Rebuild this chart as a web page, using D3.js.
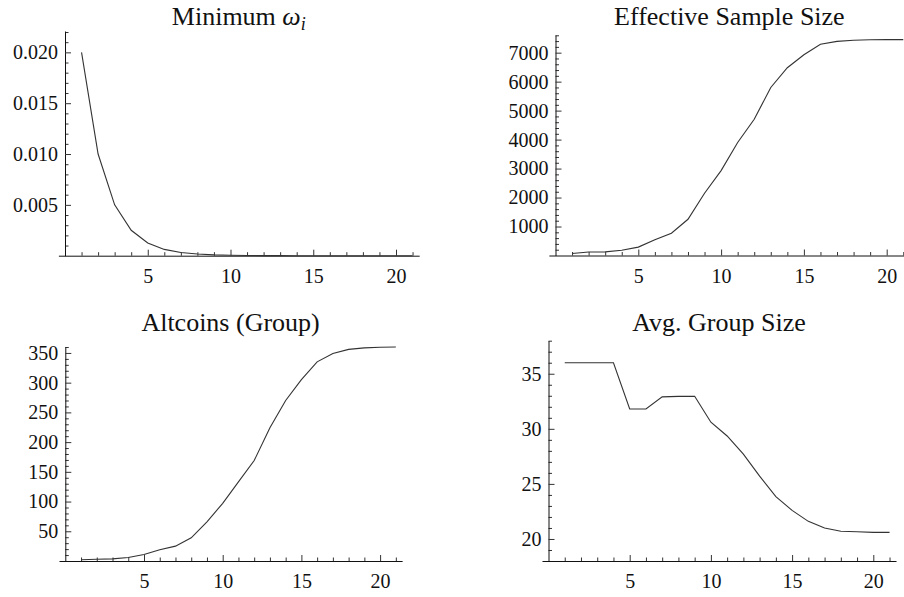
<!DOCTYPE html>
<html>
<head>
<meta charset="utf-8">
<script src="https://cdn.jsdelivr.net/npm/d3@7"></script>
<style>
  body { margin: 0; background: #fff; }
  svg { display: block; }
</style>
</head>
<body>
<svg></svg>
<script>
const steps = [1, 2, 3, 4, 5, 6, 7, 8, 9, 10, 11, 12, 13, 14, 15, 16, 17, 18, 19, 20, 21];

const minOmega = [0.0200, 0.0100, 0.0050, 0.0025, 0.00125, 0.00062, 0.00031, 0.00016, 0.00008, 0.00004,
                  0.00002, 0.00001, 0.000005, 0.000002, 0.000001, 0, 0, 0, 0, 0, 0];
const essSize = [70, 120, 125, 180, 290, 540, 770, 1250, 2150, 2930, 3900, 4700, 5800, 6480, 6930,
                 7290, 7390, 7430, 7445, 7450, 7450];
const altcoins = [2, 3, 3.5, 6, 11, 19, 25, 39, 66, 97, 133, 169, 224, 270, 305, 335, 349, 356, 358.5, 359.5, 360];
const avgGroup = [36, 36, 36, 36, 31.8, 31.8, 32.9, 32.95, 32.95, 30.6, 29.35, 27.7, 25.7, 23.85, 22.6,
                  21.6, 21.0, 20.7, 20.65, 20.6, 20.6];

const xTicks = [5, 10, 15, 20];
const omegaTicks = [0.005, 0.010, 0.015, 0.020];
const essTicks = [1000, 2000, 3000, 4000, 5000, 6000, 7000];
const altTicks = [50, 100, 150, 200, 250, 300, 350];
const groupTicks = [20, 25, 30, 35];

const width = 904;
const height = 597;
const serif = "'Liberation Serif', 'DejaVu Serif', 'Times New Roman', Times, serif";

const svg = d3.select('svg')
    .attr('width', width)
    .attr('height', height)
    .attr('font-family', serif);

// x0 = pixel of step 0, k = px per step, y pixel range for [yMin, yMax]
const panels = [
  {title: 'omega', values: minOmega, majors: omegaTicks, fmt: d3.format('.3f'), minorStep: 0.001,
   x0: 65, k: 16.55, yDomain: [0, 0.0221], yRange: [255.7, 31], titleY: 25},
  {title: 'Effective Sample Size', values: essSize, majors: essTicks, fmt: d3.format('d'), minorStep: 200,
   x0: 555.5, k: 16.56, yDomain: [0, 7610], yRange: [255.5, 35], titleY: 25},
  {title: 'Altcoins (Group)', values: altcoins, majors: altTicks, fmt: d3.format('d'), minorStep: 10,
   x0: 65.3, k: 15.74, yDomain: [0, 360.5], yRange: [561, 346.7], titleY: 331},
  {title: 'Avg. Group Size', values: avgGroup, majors: groupTicks, fmt: d3.format('d'), minorStep: 1,
   x0: 548.5, k: 16.24, yDomain: [18, 38], yRange: [561, 340.7], titleY: 331}
];

panels.forEach(drawPanel);

function drawPanel(p){
  const x = d3.scaleLinear()
      .domain([-0.4, 21.4])
      .range([p.x0 - 0.4 * p.k, p.x0 + 21.4 * p.k]);
  const y = d3.scaleLinear()
      .domain(p.yDomain)
      .range(p.yRange);

  const g = svg.append('g');

  // minor ticks
  const yMinor = d3.range(p.yDomain[0] + p.minorStep, p.yDomain[1] + 1e-9, p.minorStep)
      .filter(v => !p.majors.some(m => Math.abs(m - v) < p.minorStep / 10));
  g.append('g')
      .attr('transform', `translate(${x(0)},0)`)
      .call(d3.axisLeft(y).tickValues(yMinor).tickSize(-3.5).tickFormat(''))
      .call(s => s.select('.domain').remove());
  const xMinor = steps.filter(s => !xTicks.includes(s));
  g.append('g')
      .attr('transform', `translate(0,${y(p.yDomain[0])})`)
      .call(d3.axisBottom(x).tickValues(xMinor).tickSize(-3.5).tickFormat(''))
      .call(s => s.select('.domain').remove());

  // major ticks + axis lines
  g.append('g')
      .attr('transform', `translate(${x(0)},0)`)
      .call(d3.axisLeft(y).tickValues(p.majors).tickSize(-6).tickSizeOuter(0).tickPadding(7).tickFormat(p.fmt));
  g.append('g')
      .attr('transform', `translate(0,${y(p.yDomain[0])})`)
      .call(d3.axisBottom(x).tickValues(xTicks).tickSize(-6).tickSizeOuter(0).tickPadding(13));

  g.selectAll('g').attr('font-family', serif).attr('font-size', 20);
  g.selectAll('.tick text').attr('fill', '#111');
  g.selectAll('.domain').attr('stroke', '#111').attr('stroke-width', 1);
  g.selectAll('.tick line').attr('stroke', '#333').attr('stroke-width', 1);

  const line = d3.line()
      .x((d, i) => x(steps[i]))
      .y(d => y(d));

  g.append('path')
      .datum(p.values)
      .attr('fill', 'none')
      .attr('stroke', '#333')
      .attr('stroke-width', 1.1)
      .attr('d', line);

  const title = g.append('text')
      .attr('font-family', serif)
      .attr('font-size', 26)
      .attr('fill', '#111')
      .attr('x', (x.range()[0] + x.range()[1]) / 2)
      .attr('y', p.titleY)
      .attr('text-anchor', 'middle');
  if (p.title === 'omega') {
    title.append('tspan').text('Minimum ');
    title.append('tspan').attr('font-style', 'italic').text('ω');
    title.append('tspan').attr('font-style', 'italic').attr('font-size', 18).attr('dy', 5).text('i');
  } else {
    title.text(p.title);
  }
}
</script>
</body>
</html>
